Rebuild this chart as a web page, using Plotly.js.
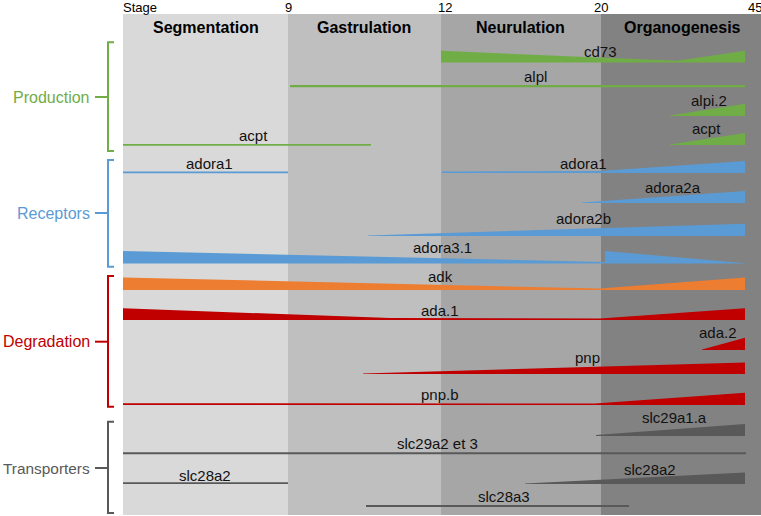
<!DOCTYPE html>
<html>
<head>
<meta charset="utf-8">
<script src="https://cdn.plot.ly/plotly-3.0.1.min.js"></script>
<style>html,body{margin:0;padding:0;background:#fff;}#chart{width:761px;height:516px;}</style>
</head>
<body>
<div id="chart"></div>
<script>
// ---- Timeline bands (x in timeline units, y in lane units) ----
const bandNames = ['Segmentation', 'Gastrulation', 'Neurulation', 'Organogenesis'];
const bandEdges = [0, 165, 318, 478, 638];
const bandColors = ['#d9d9d9', '#bfbfbf', '#a6a6a6', '#828282'];
const headerX = [83, 241, 397, 559];
const stageTicks = ['9', '12', '20', '45'];
const stageTickX = [165, 322, 478, 632];

// ---- Groups ----
const groupNames = ['Production', 'Receptors', 'Degradation', 'Transporters'];
const groupColors = ['#70ad47', '#5b9bd5', '#c00000', '#595959'];
const groupTop = [28.3, 146, 262, 407.7];
const groupBottom = [137, 252.7, 392.7, 499];
const groupMid = [83, 199, 327.7, 454];
const groupFont = [16, 16, 16, 15.4];

// ---- Expression segments ----
const segGene  = ['cd73', 'alpl', 'alpi.2', 'acpt', 'acpt', 'adora1', 'adora1', 'adora2a', 'adora2b',
                  'adora3.1', 'adora3.1', 'adk', 'ada.1', 'ada.2', 'pnp', 'pnp.b',
                  'slc29a1.a', 'slc29a2 et 3', 'slc28a2', 'slc28a2', 'slc28a3'];
const segColor = ['#70ad47', '#70ad47', '#70ad47', '#70ad47', '#70ad47',
                  '#5b9bd5', '#5b9bd5', '#5b9bd5', '#5b9bd5', '#5b9bd5', '#5b9bd5',
                  '#ed7d31', '#c00000', '#c00000', '#c00000', '#c00000',
                  '#595959', '#595959', '#595959', '#595959', '#595959'];
const segBase  = [48.5, 73.3, 102, 131, 131.7, 159.3, 159, 189, 222, 249.5, 249.5, 276, 306, 336, 360, 391,
                  422, 440.3, 470, 470, 493];
const segX = [
  [318, 554, 622], [167, 622], [547, 622], [547, 622], [0, 248],
  [0, 165], [319, 477, 622], [459, 622], [245, 622], [0, 482], [482, 625],
  [0, 477, 622], [0, 267, 477, 622], [579, 622], [240, 622], [0, 472, 622],
  [473, 622], [0, 623], [0, 165], [402, 622], [243, 506]
];
const segT = [
  [11.7, 1.7, 11.7], [2.3, 2.3], [0.5, 12.3], [0.5, 12], [1.7, 1.7],
  [1.7, 1.7], [1.5, 2, 12], [0.5, 12], [0.5, 12.3], [12.5, 1.5], [12.5, 0.5],
  [12.5, 1.5, 12.5], [11.7, 2, 1.5, 11.7], [0.5, 12.3], [0.5, 11.5], [1.7, 1.5, 12.3],
  [1, 12], [2, 2], [1.7, 1.7], [0.5, 11.5], [2, 2]
];

// ---- Gene labels ----
const labelText = ['cd73', 'alpl', 'alpi.2', 'acpt', 'acpt', 'adora1', 'adora1', 'adora2a', 'adora2b',
                   'adora3.1', 'adk', 'ada.1', 'ada.2', 'pnp', 'pnp.b',
                   'slc29a1.a', 'slc29a2 et 3', 'slc28a2', 'slc28a2', 'slc28a3'];
const labelX = [477, 412, 586, 583, 130, 86, 460, 550, 460, 319, 317, 317, 595, 464, 317, 551, 314, 82, 527, 381];
const labelY = [37, 62, 86, 114, 121, 149, 149, 173, 204, 233, 262, 296, 318, 343, 380, 403, 429, 461, 455, 482];

const FONT = 'Liberation Sans, Arial, Helvetica, sans-serif';

// traces: polygons with flat bottom at base, top = base - thickness
const traces = segGene.map((g, i) => {
  const xs = segX[i], ts = segT[i], b = segBase[i];
  const px = xs.concat(xs.slice().reverse());
  const py = ts.map(t => b - t).concat(xs.map(() => b));
  return {
    type: 'scatter', mode: 'lines', x: px, y: py, fill: 'toself',
    fillcolor: segColor[i], line: {width: 0, color: segColor[i]},
    name: g, hoverinfo: 'name', showlegend: false
  };
});

const shapes = [];
bandNames.forEach((n, i) => {
  shapes.push({type: 'rect', xref: 'x', yref: 'y', x0: bandEdges[i], x1: bandEdges[i + 1],
    y0: 0, y1: 501, fillcolor: bandColors[i], line: {width: 0}, layer: 'below'});
});
groupNames.forEach((n, i) => {
  const c = groupColors[i];
  shapes.push({type: 'path', xref: 'x', yref: 'y',
    path: `M -9 ${groupTop[i]} L -15 ${groupTop[i]} L -15 ${groupBottom[i]} L -9 ${groupBottom[i]}`,
    line: {color: c, width: 2}});
  shapes.push({type: 'line', xref: 'x', yref: 'y', x0: -28, x1: -15, y0: groupMid[i], y1: groupMid[i],
    line: {color: c, width: 2}});
});

const annotations = [];
bandNames.forEach((n, i) => {
  annotations.push({x: headerX[i], y: 13, xref: 'x', yref: 'y', text: '<b>' + n + '</b>', showarrow: false,
    xanchor: 'center', yanchor: 'middle', font: {family: FONT, size: 16, color: '#000'}});
});
annotations.push({x: 0, y: -7, xref: 'x', yref: 'y', text: 'Stage', showarrow: false,
  xanchor: 'left', yanchor: 'middle', xshift: -2, font: {family: FONT, size: 13, color: '#000'}});
stageTicks.forEach((t, i) => {
  annotations.push({x: stageTickX[i], y: -7, xref: 'x', yref: 'y', text: t, showarrow: false,
    xanchor: 'center', yanchor: 'middle', font: {family: FONT, size: 13, color: '#000'}});
});
groupNames.forEach((n, i) => {
  annotations.push({x: -33, y: groupMid[i], xref: 'x', yref: 'y', text: n, showarrow: false,
    xanchor: 'right', yanchor: 'middle', xshift: 2, font: {family: FONT, size: groupFont[i], color: groupColors[i]}});
});
labelText.forEach((t, i) => {
  annotations.push({x: labelX[i], y: labelY[i], xref: 'x', yref: 'y', text: t, showarrow: false,
    xanchor: 'center', yanchor: 'middle', font: {family: FONT, size: 15, color: '#111'}});
});

const layout = {
  width: 761, height: 516,
  margin: {l: 0, r: 0, t: 0, b: 0, pad: 0},
  paper_bgcolor: '#ffffff', plot_bgcolor: '#ffffff',
  xaxis: {range: [-123, 638], visible: false, showgrid: false, zeroline: false, fixedrange: true},
  yaxis: {range: [502, -14], visible: false, showgrid: false, zeroline: false, fixedrange: true},
  shapes: shapes, annotations: annotations, showlegend: false
};

Plotly.newPlot('chart', traces, layout, {displayModeBar: false, staticPlot: true});
</script>
</body>
</html>
